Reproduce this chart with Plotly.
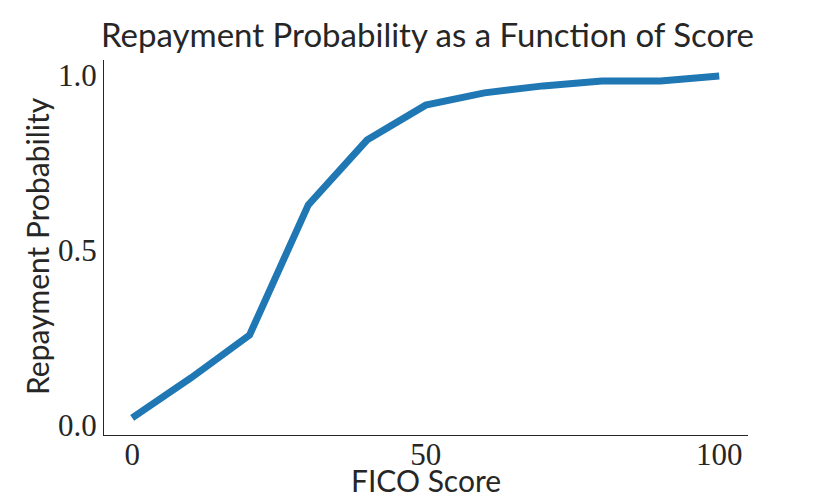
import plotly.graph_objects as go

fico_score = [0, 10, 20, 30, 40, 50, 60, 70, 80, 90, 100]
repay_prob = [0.02, 0.134, 0.257, 0.629, 0.814, 0.914, 0.949, 0.969, 0.983, 0.983, 0.997]

title_text = "Repayment Probability as a Function of Score"
x_title = "FICO Score"
y_title = "Repayment Probability"
x_ticks = [0, 50, 100]
y_ticks = [0.0, 0.5, 1.0]

sans = "Lato, 'Noto Sans', sans-serif"
serif = "'Liberation Serif', 'DejaVu Serif', serif"
ink = "#262626"

fig = go.Figure(go.Scatter(
    x=fico_score, y=repay_prob, mode="lines",
    line=dict(color="#1f77b4", width=7),
    hoverinfo="skip",
))

fig.update_layout(
    width=830, height=498,
    margin=dict(l=104, r=82, t=60, b=63, autoexpand=False),
    paper_bgcolor="white", plot_bgcolor="white",
    showlegend=False,
    annotations=[
        dict(text=title_text, xref="paper", yref="paper", x=0.502, y=1.069,
             xanchor="center", yanchor="middle", showarrow=False,
             font=dict(family=sans, size=33, color=ink)),
        dict(text=x_title, xref="paper", yref="paper", x=0.5, y=-0.1735,
             xanchor="center", yanchor="bottom", showarrow=False,
             font=dict(family=sans, size=30, color=ink)),
        dict(text=y_title, xref="paper", yref="paper", x=-0.104, y=0.504,
             xanchor="center", yanchor="middle", showarrow=False, textangle=-90,
             font=dict(family=sans, size=30, color=ink)),
    ],
)
fig.update_xaxes(
    range=[-4.8, 104.9], tickvals=x_ticks, ticktext=[str(v) for v in x_ticks],
    showgrid=False, zeroline=False, showline=True, linecolor=ink, linewidth=1.3,
    ticks="", ticklen=0, automargin=False,
    tickfont=dict(family=serif, size=31, color=ink),
)
fig.update_yaxes(
    range=[-0.029, 1.043], tickvals=y_ticks, ticktext=["0.0", "0.5", "1.0"],
    showgrid=False, zeroline=False, showline=True, linecolor=ink, linewidth=1.3,
    ticks="", ticklen=0, automargin=False,
    tickfont=dict(family=serif, size=31, color=ink),
)
try:
    fig.update_xaxes(ticklabelstandoff=-8)
except Exception:
    pass

fig.write_html("out.html", config={"displayModeBar": False},
               post_script="document.body.style.margin='0px';")
